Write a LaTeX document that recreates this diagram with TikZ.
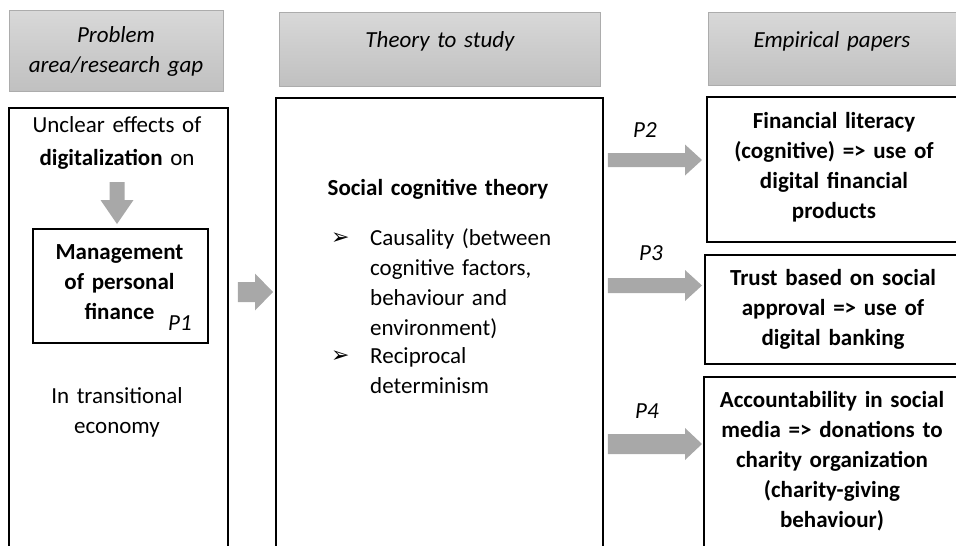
\documentclass[tikz,border=0pt]{standalone}
\usepackage{fontspec}
\setmainfont{Carlito}
\newfontfamily\dingfont{DejaVu Sans}
\usetikzlibrary{calc}

\definecolor{hdrtop}{RGB}{216,216,216}
\definecolor{hdrbot}{RGB}{192,192,192}
\definecolor{hdrline}{RGB}{172,172,172}
\definecolor{arrowgray}{RGB}{168,168,168}

% horizontal block arrow: tail, tip, shaft half height, head half height, head length
\newcommand\blockarrow[5]{%
  \fill[arrowgray] let \p1=(#1), \p2=(#2) in
    (\x1,\y1-#3pt) -- (\x2-#5pt,\y1-#3pt) -- (\x2-#5pt,\y1-#4pt) -- (\x2,\y2)
    -- (\x2-#5pt,\y1+#4pt) -- (\x2-#5pt,\y1+#3pt) -- (\x1,\y1+#3pt) -- cycle;}

\tikzset{
  header/.style={draw=hdrline, line width=0.8pt, top color=hdrtop, bottom color=hdrbot,
    inner sep=0pt, anchor=north west},
  framebox/.style={draw=black, line width=1.8pt, fill=white, inner sep=0pt, anchor=north west},
  words/.style={font=\fontsize{23}{30}\selectfont, inner sep=0pt, anchor=base},
  wordsit/.style={font=\fontsize{23}{30}\selectfont\itshape, inner sep=0pt, anchor=base},
  wordsbf/.style={font=\fontsize{23}{30}\selectfont\bfseries, inner sep=0pt, anchor=base},
  centred/.style={text width=270pt, align=center},
  leftset/.style={text width=230pt, align=left, anchor=base west},
  bullet/.style={font=\dingfont\fontsize{22}{30}\selectfont, inner sep=0pt, anchor=base west},
}

\begin{document}
\begin{tikzpicture}[x=1pt,y=-1pt]
\path[use as bounding box] (0,0) rectangle (956,546);
\clip (0,0) rectangle (956,546);

% column headers
\node[header, minimum width=214pt, minimum height=81pt] (hdrL) at (9,10) {};
\node[header, minimum width=321pt, minimum height=74pt] (hdrM) at (279,12) {};
\node[header, minimum width=262pt, minimum height=73pt] (hdrR) at (708,12) {};
\node[wordsit, centred] (hdrLtxt) at (116,42) {Problem\\area/research gap};
\node[wordsit, centred] (hdrMtxt) at (440,47) {Theory to study};
\node[wordsit, centred] (hdrRtxt) at (832,47) {Empirical papers};

% column frames
\node[framebox, minimum width=219pt, minimum height=470pt] (bL) at (8,107) {};
\node[framebox, minimum width=327pt, minimum height=480pt] (bM) at (275,97) {};
\node[framebox, minimum width=175pt, minimum height=114pt] (p1box) at (32,228) {};
\node[framebox, minimum width=262pt, minimum height=145pt] (bR1) at (706,96) {};
\node[framebox, minimum width=264pt, minimum height=109pt] (bR2) at (704,254) {};
\node[framebox, minimum width=266pt, minimum height=200pt] (bR3) at (703,376) {};

% problem area
\node[words, centred] (unclear) at (117,132) {Unclear effects of\\[3pt]\textbf{digitalization} on};
\node[wordsbf, centred] (mgmt) at (119.5,259) {Management\\of personal\\finance};
\node[wordsit] (p1) at (180,330) {P1};
\node[words, centred] (transit) at (117,403) {In transitional\\economy};

% theory
\node[wordsbf, centred] (sct) at (438,195) {Social cognitive theory};
\node[bullet] (b1) at (331,244) {➢};
\node[words, leftset] (causal) at (370,245) {Causality (between\\cognitive factors,\\behaviour and\\environment)};
\node[bullet] (b2) at (331,362) {➢};
\node[words, leftset] (recip) at (370,363) {Reciprocal\\determinism};

% empirical papers
\node[wordsbf, centred] (e1) at (834,128) {Financial literacy\\(cognitive) => use of\\digital financial\\products};
\node[wordsbf, centred] (e2) at (833,285) {Trust based on social\\approval => use of\\digital banking};
\node[wordsbf, centred] (e3) at (832,407) {Accountability in social\\media => donations to\\charity organization\\(charity-giving\\behaviour)};
\node[wordsit] (p2) at (645,137) {P2};
\node[wordsit] (p3) at (651,260) {P3};
\node[wordsit] (p4) at (647,418) {P4};

% block arrows
\coordinate (dtail) at (unclear.base |- 0,182);
\coordinate (dtip) at (unclear.base |- 0,224);
\fill[arrowgray] let \p1=(dtail), \p2=(dtip) in
  (\x1-7.5pt,\y1) -- (\x1-7.5pt,\y2+24pt) -- (\x1-16.5pt,\y2+24pt) -- (\x2,\y2)
  -- (\x1+16.5pt,\y2+24pt) -- (\x1+7.5pt,\y2+24pt) -- (\x1+7.5pt,\y1) -- cycle;

\coordinate (a1tail) at ([xshift=9pt]bL.east |- 0,292);
\coordinate (a1tip) at ([xshift=-2pt]bM.west |- 0,292);
\blockarrow{a1tail}{a1tip}{10}{18.5}{18}

\coordinate (a2tail) at ([xshift=4pt]bM.east |- 0,160);
\coordinate (a2tip) at ([xshift=-4pt]bR1.west |- 0,160);
\blockarrow{a2tail}{a2tip}{7}{15.5}{17}

\coordinate (a3tail) at ([xshift=4pt]bM.east |- 0,285.5);
\coordinate (a3tip) at ([xshift=-2pt]bR2.west |- 0,285.5);
\blockarrow{a3tail}{a3tip}{7.5}{15.5}{17}

\coordinate (a4tail) at ([xshift=4pt]bM.east |- 0,444);
\coordinate (a4tip) at ([xshift=-1pt]bR3.west |- 0,444);
\blockarrow{a4tail}{a4tip}{10}{16}{17}
\end{tikzpicture}
\end{document}
